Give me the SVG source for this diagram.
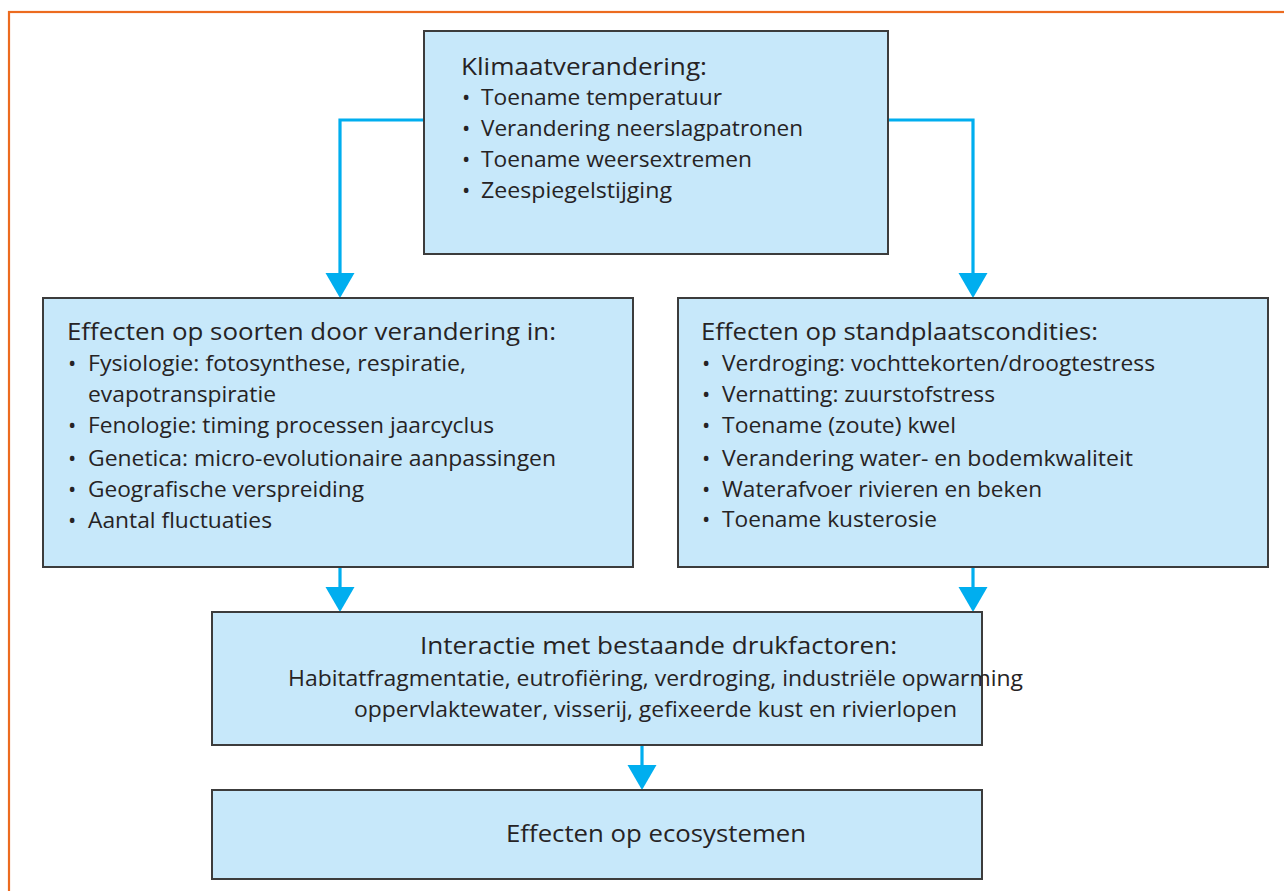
<svg xmlns="http://www.w3.org/2000/svg" width="1284" height="891" viewBox="0 0 1284 891">
<style>
.box{fill:#c7e8fa;stroke:#3c3c3c;stroke-width:2}
.t{font-family:"Open Sans","Noto Sans","Liberation Sans",sans-serif;fill:#262324}
.h{font-size:24px}
.b{font-size:22px}
.con{fill:none;stroke:#00aeef;stroke-width:3.2}
</style>
<defs>
<marker id="ah" markerUnits="userSpaceOnUse" markerWidth="26" markerHeight="30" refX="0" refY="14.5" orient="auto" viewBox="0 0 26 29">
<path d="M0,0 L25,14.5 L0,29 Z" fill="#00aeef"/>
</marker>
</defs>
<rect x="9" y="12" width="1300" height="900" fill="#ffffff" stroke="#ec6b1f" stroke-width="2.2"/>
<g id="connectors">
<path class="con" d="M424,120 H340 V273" marker-end="url(#ah)"/>
<path class="con" d="M888,120 H973 V273" marker-end="url(#ah)"/>
<path class="con" d="M340,567 V587" marker-end="url(#ah)"/>
<path class="con" d="M973,567 V587" marker-end="url(#ah)"/>
<path class="con" d="M642,745 V765" marker-end="url(#ah)"/>
</g>
<g id="klimaat">
<rect class="box" x="424" y="31" width="464" height="223"/>
<text class="t h" x="461" y="75" textLength="246" lengthAdjust="spacingAndGlyphs">Klimaatverandering:</text>
<text class="t b" x="462" y="105">•</text><text class="t b" x="481" y="105" textLength="241" lengthAdjust="spacingAndGlyphs">Toename temperatuur</text>
<text class="t b" x="462" y="136">•</text><text class="t b" x="481" y="136" textLength="322" lengthAdjust="spacingAndGlyphs">Verandering neerslagpatronen</text>
<text class="t b" x="462" y="167">•</text><text class="t b" x="481" y="167" textLength="271" lengthAdjust="spacingAndGlyphs">Toename weersextremen</text>
<text class="t b" x="462" y="198">•</text><text class="t b" x="481" y="198" textLength="191" lengthAdjust="spacingAndGlyphs">Zeespiegelstijging</text>
</g>
<g id="soorten">
<rect class="box" x="43" y="298" width="590" height="269"/>
<text class="t h" x="67" y="340" textLength="489" lengthAdjust="spacingAndGlyphs">Effecten op soorten door verandering in:</text>
<text class="t b" x="68" y="371">•</text><text class="t b" x="88" y="371" textLength="378" lengthAdjust="spacingAndGlyphs">Fysiologie: fotosynthese, respiratie,</text>
<text class="t b" x="88" y="402" textLength="188" lengthAdjust="spacingAndGlyphs">evapotranspiratie</text>
<text class="t b" x="68" y="433">•</text><text class="t b" x="88" y="433" textLength="406" lengthAdjust="spacingAndGlyphs">Fenologie: timing processen jaarcyclus</text>
<text class="t b" x="68" y="466">•</text><text class="t b" x="88" y="466" textLength="468" lengthAdjust="spacingAndGlyphs">Genetica: micro-evolutionaire aanpassingen</text>
<text class="t b" x="68" y="497">•</text><text class="t b" x="88" y="497" textLength="276" lengthAdjust="spacingAndGlyphs">Geografische verspreiding</text>
<text class="t b" x="68" y="528">•</text><text class="t b" x="88" y="528" textLength="184" lengthAdjust="spacingAndGlyphs">Aantal fluctuaties</text>
</g>
<g id="standplaats">
<rect class="box" x="678" y="298" width="590" height="269"/>
<text class="t h" x="701" y="340" textLength="397" lengthAdjust="spacingAndGlyphs">Effecten op standplaatscondities:</text>
<text class="t b" x="702" y="371">•</text><text class="t b" x="722" y="371" textLength="433" lengthAdjust="spacingAndGlyphs">Verdroging: vochttekorten/droogtestress</text>
<text class="t b" x="702" y="402">•</text><text class="t b" x="722" y="402" textLength="273" lengthAdjust="spacingAndGlyphs">Vernatting: zuurstofstress</text>
<text class="t b" x="702" y="433">•</text><text class="t b" x="722" y="433" textLength="234" lengthAdjust="spacingAndGlyphs">Toename (zoute) kwel</text>
<text class="t b" x="702" y="466">•</text><text class="t b" x="722" y="466" textLength="411" lengthAdjust="spacingAndGlyphs">Verandering water- en bodemkwaliteit</text>
<text class="t b" x="702" y="497">•</text><text class="t b" x="722" y="497" textLength="320" lengthAdjust="spacingAndGlyphs">Waterafvoer rivieren en beken</text>
<text class="t b" x="702" y="527">•</text><text class="t b" x="722" y="527" textLength="215" lengthAdjust="spacingAndGlyphs">Toename kusterosie</text>
</g>
<g id="interactie">
<rect class="box" x="212" y="612" width="770" height="133"/>
<text class="t h" x="420" y="654" textLength="477" lengthAdjust="spacingAndGlyphs">Interactie met bestaande drukfactoren:</text>
<text class="t b" x="288" y="686" textLength="735" lengthAdjust="spacingAndGlyphs">Habitatfragmentatie, eutrofiëring, verdroging, industriële opwarming</text>
<text class="t b" x="354" y="717" textLength="603" lengthAdjust="spacingAndGlyphs">oppervlaktewater, visserij, gefixeerde kust en rivierlopen</text>
</g>
<g id="ecosystemen">
<rect class="box" x="212" y="790" width="770" height="89"/>
<text class="t h" x="506" y="842" textLength="300" lengthAdjust="spacingAndGlyphs">Effecten op ecosystemen</text>
</g>
</svg>
